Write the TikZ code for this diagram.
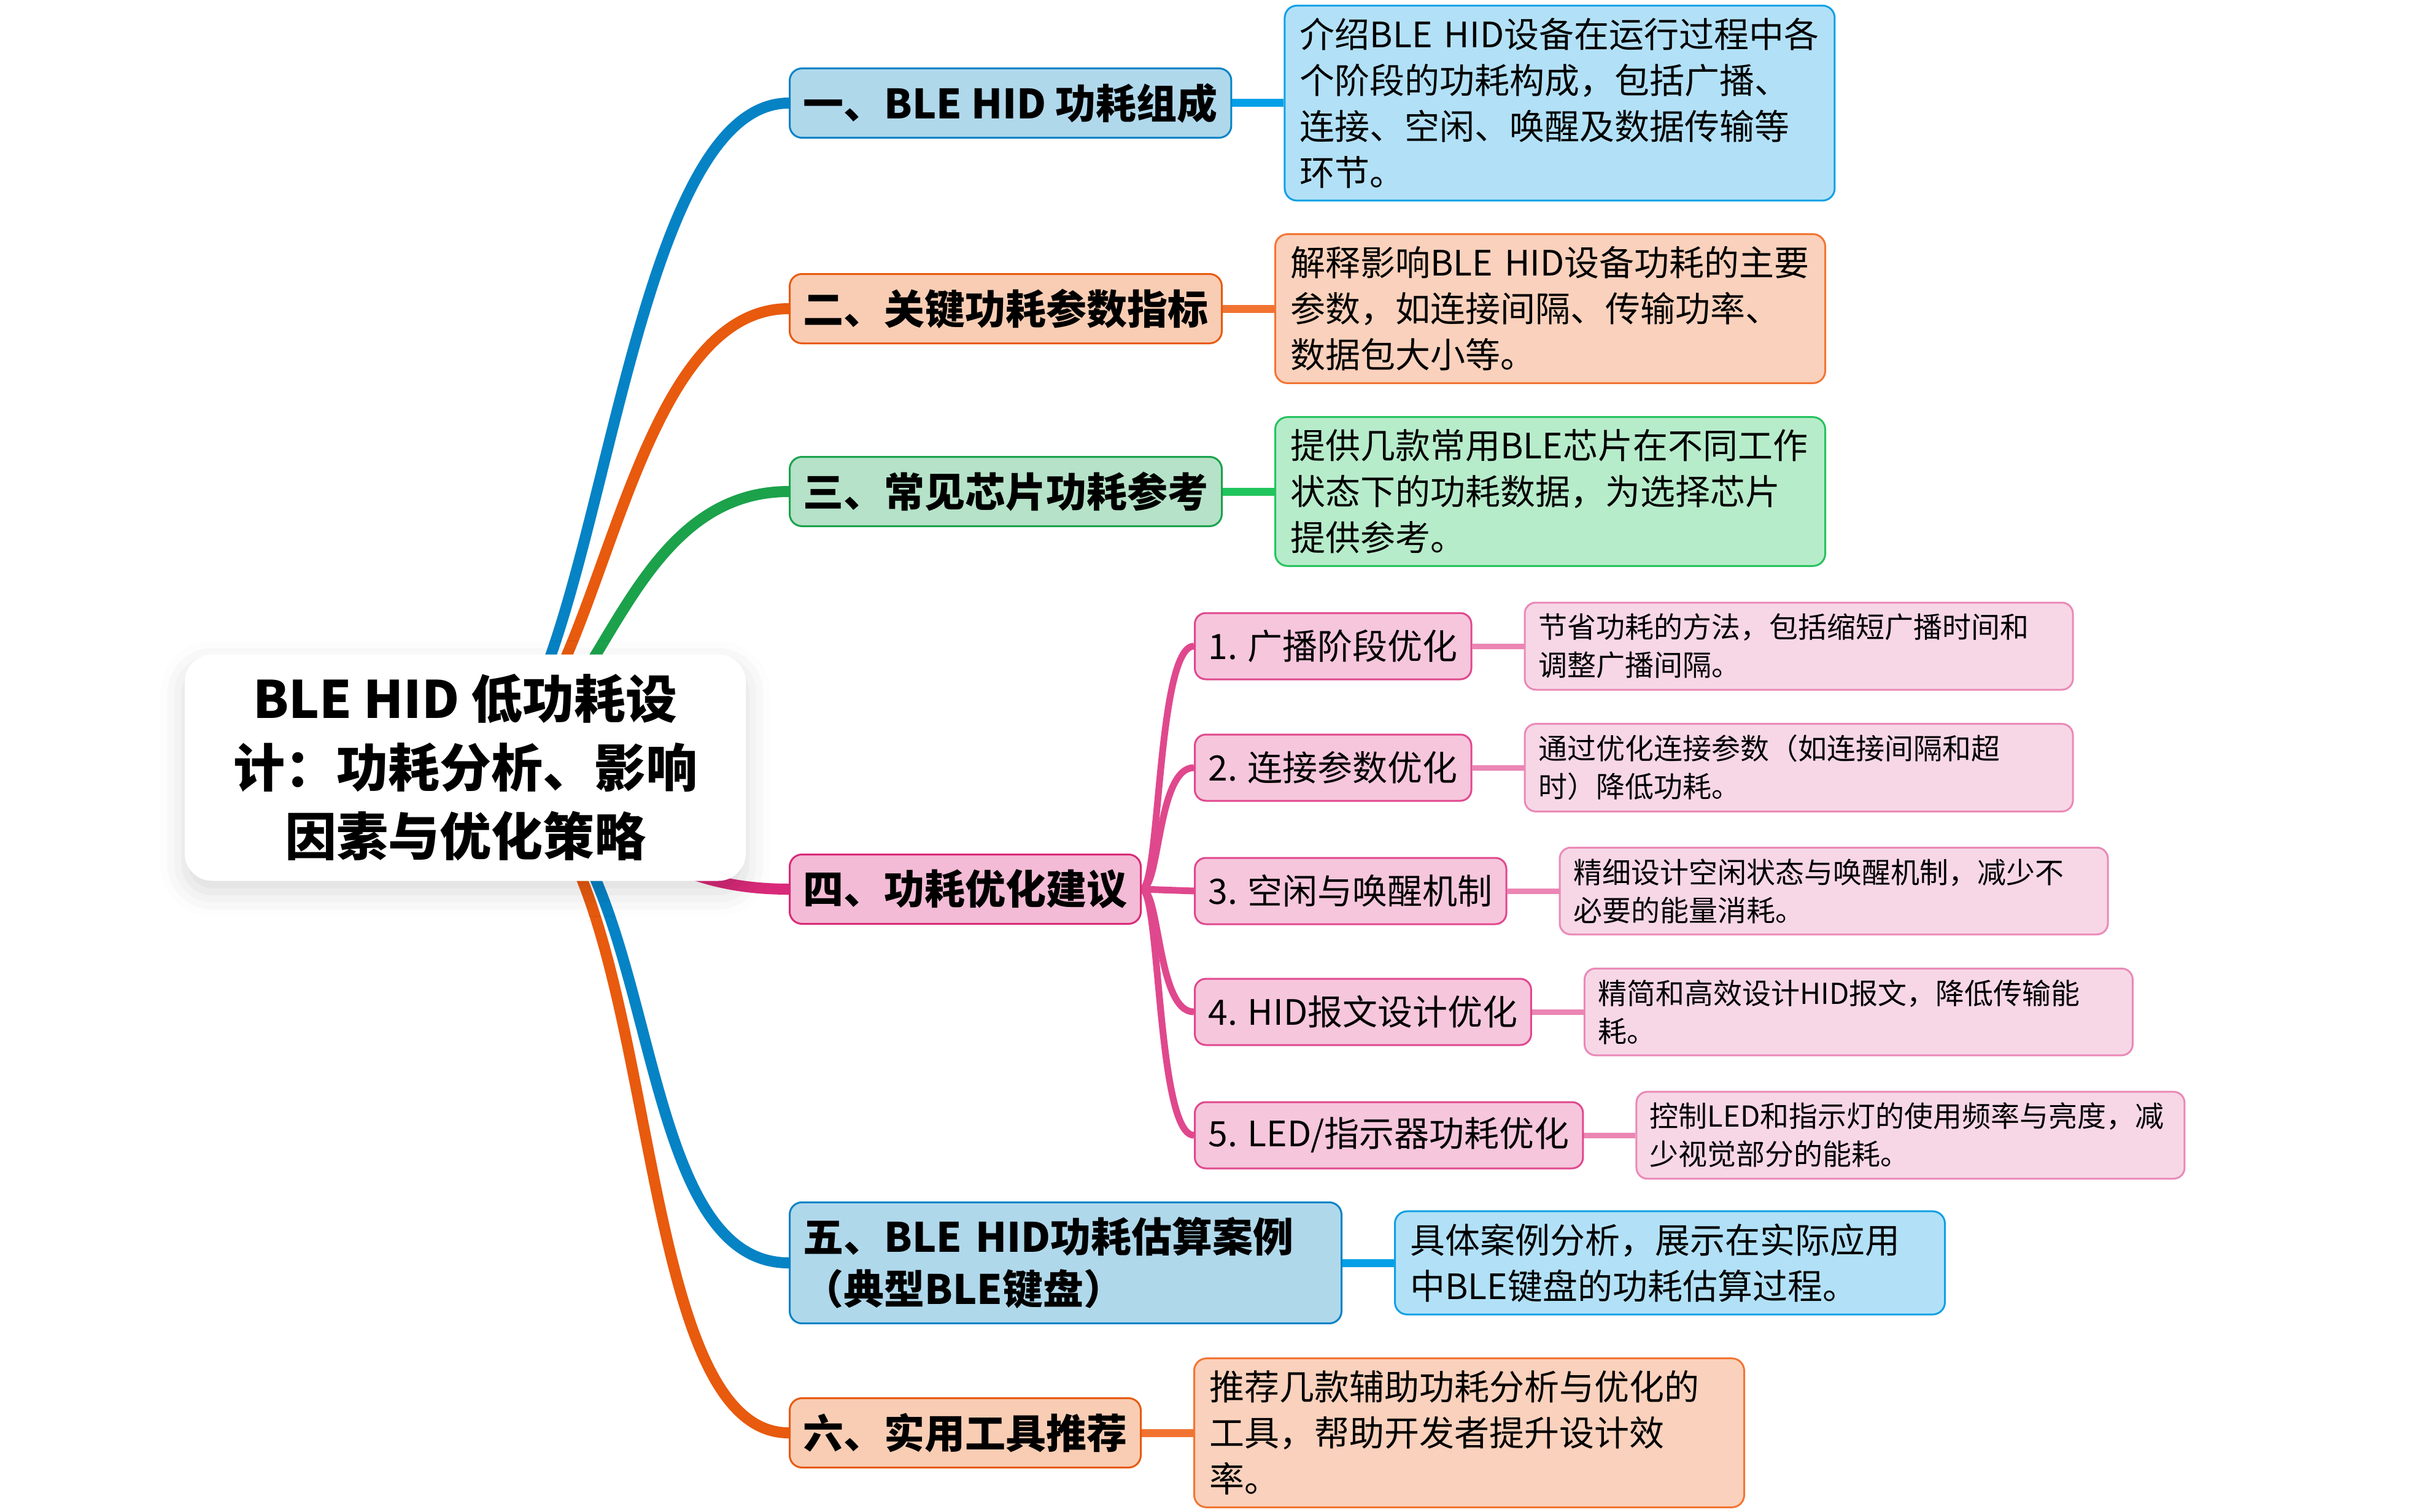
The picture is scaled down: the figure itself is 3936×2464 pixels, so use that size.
\documentclass[tikz,border=0pt]{standalone}
\usepackage{fontspec}
\setmainfont{Noto Sans CJK SC}
\usepackage{tikz}
\usetikzlibrary{positioning,backgrounds,shadows.blur}
\setlength{\parindent}{0pt}
\definecolor{blueline}{HTML}{0583C5}
\definecolor{bluebox}{HTML}{B0D8EB}
\definecolor{bluenote}{HTML}{B2E1F7}
\definecolor{bluenoteline}{HTML}{12A0E5}
\definecolor{bluelink}{HTML}{04A0E7}
\definecolor{orangeline}{HTML}{E85A0E}
\definecolor{orangebox}{HTML}{F8CDB4}
\definecolor{orangenote}{HTML}{FAD1BC}
\definecolor{orangenoteline}{HTML}{F27533}
\definecolor{orangelink}{HTML}{F27331}
\definecolor{greenline}{HTML}{1BA24B}
\definecolor{greenbox}{HTML}{B5E2C8}
\definecolor{greennote}{HTML}{B7ECCB}
\definecolor{greennoteline}{HTML}{26C25D}
\definecolor{greenlink}{HTML}{21C55D}
\definecolor{pinkline}{HTML}{D92A79}
\definecolor{pinkbox}{HTML}{F3BBD5}
\definecolor{pinksub}{HTML}{F6C6DC}
\definecolor{pinksubline}{HTML}{E0488D}
\definecolor{pinknote}{HTML}{F7D7E6}
\definecolor{pinknoteline}{HTML}{EA89B7}
\definecolor{pinklink}{HTML}{EB86B4}

\begin{document}
\begin{tikzpicture}[x=1pt, y=-1pt,
    root/.style={rectangle, rounded corners=45pt, fill=white, text=black,
                 minimum width=914pt, minimum height=369pt, align=center,
                 font=\fontsize{84pt}{112pt}\selectfont\bfseries,
                 blur shadow={shadow xshift=0pt, shadow yshift=-18pt,
                              shadow blur radius=40pt, shadow opacity=15}},
    topic/.style={rectangle, rounded corners=20pt, line width=3pt,
                  minimum height=113pt, inner xsep=22pt, inner ysep=24pt,
                  anchor=west, align=left,
                  font=\fontsize{66pt}{85pt}\selectfont\bfseries},
    note/.style={rectangle, rounded corners=20pt, line width=3pt,
                 text width=846pt, inner xsep=25pt, inner ysep=20pt,
                 align=left, font=\fontsize{57pt}{75pt}\selectfont},
    sub/.style={rectangle, rounded corners=18pt, line width=3pt,
                draw=pinksubline, fill=pinksub, minimum height=108pt,
                inner xsep=22pt, anchor=west,
                font=\fontsize{57pt}{70pt}\selectfont},
    subnote/.style={rectangle, rounded corners=18pt, line width=3pt,
                    draw=pinknoteline, fill=pinknote, text width=849pt,
                    inner xsep=22pt, inner ysep=18pt, align=left,
                    font=\fontsize{47pt}{62pt}\selectfont},
    branch/.style={line width=18pt},
    link/.style={line width=13pt},
    twig/.style={line width=11pt, draw=pinksubline},
    sublink/.style={line width=9pt, draw=pinklink},
]
\useasboundingbox (0,0) rectangle (3936,2464);

\node[root] (root) at (758,1251) {BLE HID 低功耗设\\计：功耗分析、影响\\因素与优化策略};

\node[topic, fill=bluebox, draw=blueline] (b1) at (1285,168) {一、BLE HID 功耗组成};
\node[topic, fill=orangebox, draw=orangeline] (b2) at (1285,503) {二、关键功耗参数指标};
\node[topic, fill=greenbox, draw=greenline] (b3) at (1285,801) {三、常见芯片功耗参考};
\node[topic, fill=pinkbox, draw=pinkline] (b4) at (1285,1449) {四、功耗优化建议};
\node[topic, fill=bluebox, draw=blueline, text width=855pt] (b5) at (1285,2058) {五、BLE HID功耗估算案例\\（典型BLE键盘）};
\node[topic, fill=orangebox, draw=orangeline] (b6) at (1285,2335) {六、实用工具推荐};

\node[note, fill=bluenote, draw=bluenoteline, right=84pt of b1] (n1) {介绍BLE HID设备在运行过程中各\\个阶段的功耗构成，包括广播、\\连接、空闲、唤醒及数据传输等\\环节。};
\node[note, fill=orangenote, draw=orangenoteline, right=84pt of b2] (n2) {解释影响BLE HID设备功耗的主要\\参数，如连接间隔、传输功率、\\数据包大小等。};
\node[note, fill=greennote, draw=greennoteline, right=84pt of b3] (n3) {提供几款常用BLE芯片在不同工作\\状态下的功耗数据，为选择芯片\\提供参考。};
\node[note, fill=bluenote, draw=bluenoteline, right=84pt of b5] (n5) {具体案例分析，展示在实际应用\\中BLE键盘的功耗估算过程。};
\node[note, fill=orangenote, draw=orangenoteline, right=84pt of b6] (n6) {推荐几款辅助功耗分析与优化的\\工具，帮助开发者提升设计效\\率。};

\node[sub] (s1) at (1945,1053) {1. 广播阶段优化};
\node[sub] (s2) at (1945,1251) {2. 连接参数优化};
\node[sub] (s3) at (1945,1452) {3. 空闲与唤醒机制};
\node[sub] (s4) at (1945,1649) {4. HID报文设计优化};
\node[sub] (s5) at (1945,1850) {5. LED/指示器功耗优化};

\node[subnote, right=84pt of s1] (m1) {节省功耗的方法，包括缩短广播时间和\\调整广播间隔。};
\node[subnote, right=84pt of s2] (m2) {通过优化连接参数（如连接间隔和超\\时）降低功耗。};
\node[subnote, right=84pt of s3] (m3) {精细设计空闲状态与唤醒机制，减少不\\必要的能量消耗。};
\node[subnote, right=84pt of s4] (m4) {精简和高效设计HID报文，降低传输能\\耗。};
\node[subnote, right=84pt of s5] (m5) {控制LED和指示灯的使用频率与亮度，减\\少视觉部分的能耗。};

\begin{scope}[on background layer]
\draw[branch, blueline] (root.center) .. controls +(220,0) and +(-290,0) .. (b1.west);
\draw[branch, orangeline] (root.center) .. controls +(220,0) and +(-290,0) .. (b2.west);
\draw[branch, greenline] (root.center) .. controls +(220,0) and +(-290,0) .. (b3.west);
\draw[branch, pinkline] (root.center) .. controls +(220,0) and +(-290,0) .. (b4.west);
\draw[branch, blueline] (root.center) .. controls +(340,0) and +(-290,0) .. (b5.west);
\draw[branch, orangeline] (root.center) .. controls +(340,0) and +(-290,0) .. (b6.west);

\draw[link, bluelink] (b1.east) -- (n1.west);
\draw[link, orangelink] (b2.east) -- (n2.west);
\draw[link, greenlink] (b3.east) -- (n3.west);
\draw[link, bluelink] (b5.east) -- (n5.west);
\draw[link, orangelink] (b6.east) -- (n6.west);

\draw[twig] (b4.east) .. controls +(30,0) and +(-60,0) .. (s1.west);
\draw[twig] (b4.east) .. controls +(30,0) and +(-60,0) .. (s2.west);
\draw[twig] (b4.east) -- (s3.west);
\draw[twig] (b4.east) .. controls +(30,0) and +(-60,0) .. (s4.west);
\draw[twig] (b4.east) .. controls +(30,0) and +(-60,0) .. (s5.west);

\draw[sublink] (s1.east) -- (m1.west);
\draw[sublink] (s2.east) -- (m2.west);
\draw[sublink] (s3.east) -- (m3.west);
\draw[sublink] (s4.east) -- (m4.west);
\draw[sublink] (s5.east) -- (m5.west);
\end{scope}
\end{tikzpicture}
\end{document}
